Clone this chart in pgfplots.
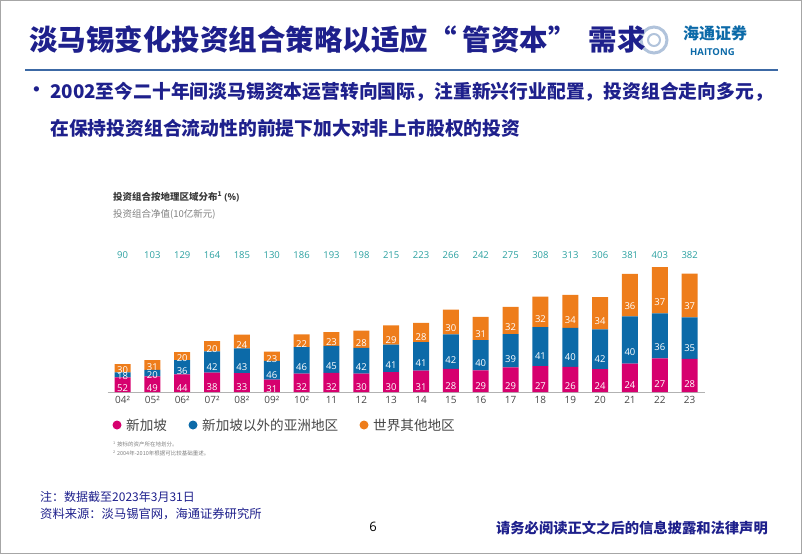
\documentclass[border=0pt]{standalone}
\usepackage{pgfplots}
\pgfplotsset{compat=1.18}
\usepackage{pgfplotstable}
\usepackage{fontspec}
\setmainfont{Noto Sans CJK SC}
\newfontfamily\os{Open Sans}
\definecolor{navy}{RGB}{30,32,140}
\definecolor{pinkc}{RGB}{214,0,110}
\definecolor{bluec}{RGB}{12,106,168}
\definecolor{orangec}{RGB}{238,125,27}
\definecolor{tealc}{RGB}{42,160,160}
\definecolor{lineblue}{RGB}{60,105,165}
\definecolor{txtgray}{RGB}{70,70,70}

% x: position, s/a/w: segment heights (net value x share), sp/ap/wp: shares in %, total: net value
\pgfplotstableread{
x s a w sp ap wp total
0 46.80 16.20 27.00 52 18 30 90
1 50.47 20.60 31.93 49 20 31 103
2 56.76 46.44 25.80 44 36 20 129
3 62.32 68.88 32.80 38 42 20 164
4 61.05 79.55 44.40 33 43 24 185
5 40.30 59.80 29.90 31 46 23 130
6 59.52 85.56 40.92 32 46 22 186
7 61.76 86.85 44.39 32 45 23 193
8 59.40 83.16 55.44 30 42 28 198
9 64.50 88.15 62.35 30 41 29 215
10 69.13 91.43 62.44 31 41 28 223
11 74.48 111.72 79.80 28 42 30 266
12 70.18 96.80 75.02 29 40 31 242
13 79.75 107.25 88.00 29 39 32 275
14 83.16 126.28 98.56 27 41 32 308
15 81.38 125.20 106.42 26 40 34 313
16 73.44 128.52 104.04 24 42 34 306
17 91.44 152.40 137.16 24 40 36 381
18 108.81 145.08 149.11 27 36 37 403
19 106.96 133.70 141.34 28 35 37 382
}\data

\begin{document}
\begin{tikzpicture}
\useasboundingbox (0pt,0pt) rectangle (802pt,-554pt);
\draw[gray!70, line width=1.2pt] (0.6pt,-0.6pt) rectangle (801.4pt,-553.4pt);

% logo
\draw[lineblue!40, line width=3pt] (654pt,-40pt) circle (13pt);
\draw[lineblue!40, line width=2pt] (654pt,-40pt) circle (6pt);
\node[anchor=west, text=bluec, font=\fontsize{16}{18}\selectfont\bfseries, inner sep=0] at (683pt,-33pt) {海通证券};
\node[anchor=west, text=bluec, font=\fontsize{9.5}{11}\selectfont\bfseries, inner sep=0] at (690pt,-52pt) {\os HAITONG};
% title
\node[anchor=west, text=navy, font=\fontsize{28.5}{30}\selectfont\bfseries, inner sep=0] at (29pt,-40pt) {淡马锡变化投资组合策略以适应“\hspace{6pt}管资本”\hspace{12pt}需求};
\draw[lineblue, line width=1.8pt] (25pt,-70pt) -- (778pt,-70pt);

% bullet text
\node[anchor=west, text=navy, font=\fontsize{18.8}{20}\selectfont\bfseries, inner sep=0] at (27pt,-92pt) {•};
\node[anchor=west, text=navy, font=\fontsize{18.8}{20}\selectfont\bfseries, inner sep=0] at (50pt,-92pt) {2002至今二十年间淡马锡资本运营转向国际，注重新兴行业配置，投资组合走向多元，};
\node[anchor=west, text=navy, font=\fontsize{18.8}{20}\selectfont\bfseries, inner sep=0] at (50pt,-128pt) {在保持投资组合流动性的前提下加大对非上市股权的投资};

% chart titles
\node[anchor=west, text=txtgray!80!black, font=\fontsize{9.5}{11}\selectfont\bfseries, inner sep=0] at (113pt,-197pt) {投资组合按地理区域分布\textsuperscript{1} {\os(\%)}};
\node[anchor=west, text=gray, font=\fontsize{9.5}{11}\selectfont, inner sep=0] at (113pt,-214pt) {投资组合净值(10亿新元)};

% main stacked bars
\begin{axis}[
  at={(107.6pt,-392pt)}, anchor=south west,
  scale only axis, width=597pt, height=130.2pt,
  xmin=-0.5, xmax=19.5, ymin=0, ymax=420,
  clip=false,
  ybar stacked, bar width=16pt,
  axis x line*=bottom, axis y line=none,
  x axis line style={gray!60, line width=0.8pt, -},
  xtick={0,...,19}, xtick style={draw=none},
  xticklabels={04²,05²,06²,07²,08²,09²,10²,11,12,13,14,15,16,17,18,19,20,21,22,23},
  xticklabel style={font=\os\fontsize{10}{12}\selectfont, text=txtgray, yshift=-1pt},
  /pgf/number format/assume math mode=true,
  nodes near coords,
  point meta=explicit,
  every node near coord/.style={font=\os\fontsize{9.5}{11}\selectfont, text=white, anchor=center, inner sep=0pt, yshift={-0.0775*\segval}},
]
\addplot[fill=pinkc, draw=none, visualization depends on={\thisrow{s}\as\segval}] table[x=x, y=s, meta=sp]{\data};
\addplot[fill=bluec, draw=none, visualization depends on={\thisrow{a}\as\segval}] table[x=x, y=a, meta=ap]{\data};
\addplot[fill=orangec, draw=none, visualization depends on={\thisrow{w}\as\segval}] table[x=x, y=w, meta=wp]{\data};
\end{axis}

% totals row
\begin{axis}[
  at={(107.6pt,-392pt)}, anchor=south west,
  scale only axis, width=597pt, height=130.2pt,
  xmin=-0.5, xmax=19.5, ymin=0, ymax=1,
  axis line style={draw=none}, ytick=\empty,
  xtick={0,...,19}, xtick style={draw=none},
  xticklabel pos=upper,
  xticklabels from table={\data}{total},
  xticklabel style={font=\os\fontsize{9.5}{11}\selectfont, text=tealc, anchor=center, yshift=7pt},
]
\end{axis}

% legend
\fill[pinkc] (117pt,-425pt) circle (4.5pt);
\node[anchor=west, text=txtgray, font=\fontsize{13.6}{15}\selectfont, inner sep=0] at (126pt,-425pt) {新加坡};
\fill[bluec] (193pt,-425pt) circle (4.5pt);
\node[anchor=west, text=txtgray, font=\fontsize{13.6}{15}\selectfont, inner sep=0] at (202pt,-425pt) {新加坡以外的亚洲地区};
\fill[orangec] (364pt,-425pt) circle (4.5pt);
\node[anchor=west, text=txtgray, font=\fontsize{13.6}{15}\selectfont, inner sep=0] at (373pt,-425pt) {世界其他地区};

% footnotes
\node[anchor=west, text=gray, font=\fontsize{5.5}{7}\selectfont, inner sep=0] at (113pt,-444pt) {\textsuperscript{1} 按标的资产所在地划分。};
\node[anchor=west, text=gray, font=\fontsize{5.5}{7}\selectfont, inner sep=0] at (113pt,-453pt) {\textsuperscript{2} 2004年-2010年根据可比较基础重述。};

% bottom notes
\node[anchor=west, text=navy, font=\fontsize{12}{14}\selectfont, inner sep=0] at (40pt,-497pt) {注：数据截至2023年3月31日};
\node[anchor=west, text=navy, font=\fontsize{12.3}{14}\selectfont, inner sep=0] at (40pt,-514pt) {资料来源：淡马锡官网，海通证券研究所};
\node[text=black, font=\os\fontsize{13}{15}\selectfont, inner sep=0] at (373pt,-527pt) {6};
\node[anchor=east, text=navy, font=\fontsize{14.3}{16}\selectfont\bfseries, inner sep=0] at (768pt,-528pt) {请务必阅读正文之后的信息披露和法律声明};
\end{tikzpicture}
\end{document}
